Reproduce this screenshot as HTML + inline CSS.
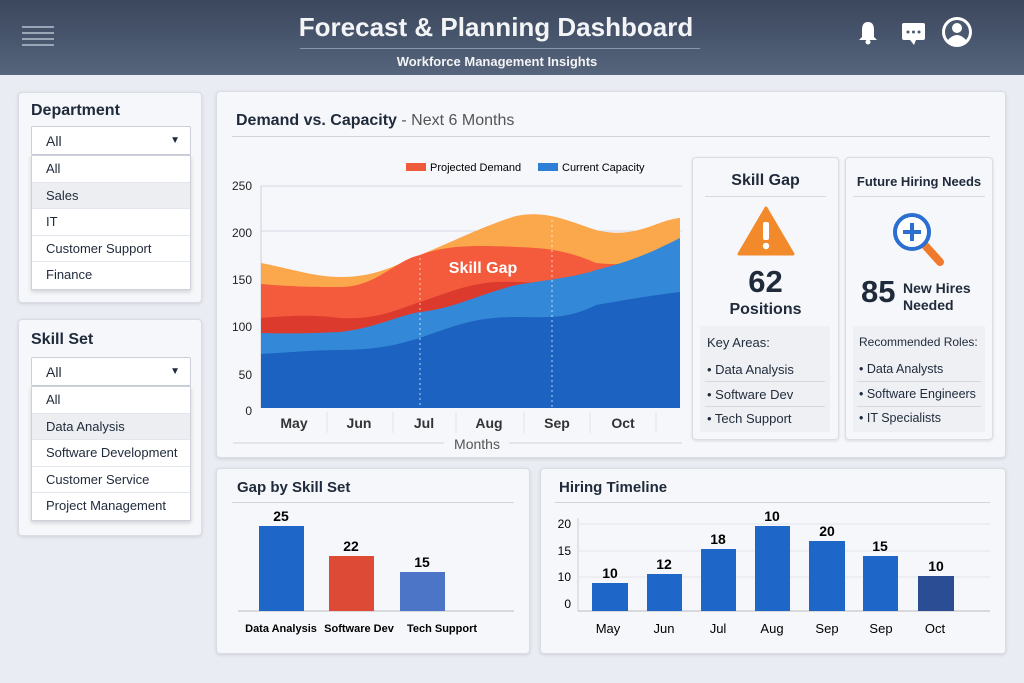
<!DOCTYPE html>
<html><head><meta charset="utf-8"><style>
*{box-sizing:border-box;margin:0;padding:0}
body{width:1024px;height:683px;background:#e9ecf2;font-family:"Liberation Sans","DejaVu Sans",sans-serif;color:#1f2a3a;position:relative;overflow:hidden}
.hdr{position:absolute;left:0;top:0;width:1024px;height:75px;background:linear-gradient(#3b475c,#4a5870 60%,#56647c)}
.card{position:absolute;background:#f6f7fa;border:1px solid #d9dde5;border-radius:4px;box-shadow:0 1px 3px rgba(0,0,0,.12)}
.t{position:absolute;white-space:nowrap}
.sel{position:absolute;background:#fff;border:1px solid #c9ced8;border-radius:2px;font-size:14px;padding:6px 14px}
.list{position:absolute;background:#fff;border:1px solid #ccd1da;box-shadow:0 2px 4px rgba(0,0,0,.15)}
.list div{height:26.5px;line-height:26px;padding-left:14px;font-size:13px;border-bottom:1px solid #e3e6ec}
</style></head><body>
<div class="hdr"></div>
<div class="t" style="left:22px;top:26px;width:32px;height:2px;background:#9aa5b6;box-shadow:0 6px 0 #9aa5b6,0 12px 0 #9aa5b6,0 18px 0 #9aa5b6"></div>
<div class="t" style="left:0;width:992px;top:12px;text-align:center;color:#f3f4f6;font-size:26px;font-weight:bold">Forecast &amp; Planning Dashboard</div>
<div class="t" style="left:300px;top:48px;width:400px;height:1px;background:#8a95a8"></div>
<div class="t" style="left:0;width:994px;top:54px;text-align:center;color:#f3f4f6;font-size:13px;font-weight:bold">Workforce Management Insights</div>
<svg class="t" style="left:859px;top:14px" width="150" height="36">
<path d="M9 8 q6 0 6 8 v7 l3 3 h-18 l3-3 v-7 q0-8 6-8z" fill="#fff"/><circle cx="9" cy="28" r="2.5" fill="#fff"/>
<rect x="43" y="9" width="23" height="17" rx="2" fill="#fff"/><path d="M51 26 l4 5 l2-5z" fill="#fff"/><circle cx="49" cy="18" r="1.5" fill="#4a5870"/><circle cx="54.5" cy="18" r="1.5" fill="#4a5870"/><circle cx="60" cy="18" r="1.5" fill="#4a5870"/>
<circle cx="98" cy="18" r="15" fill="#fff"/><circle cx="98" cy="18" r="12" fill="#4a5870"/><circle cx="98" cy="14" r="5" fill="#fff"/><path d="M88 27 q10-12 20 0 q-10 7 -20 0z" fill="#fff"/>
</svg>

<div class="card" style="left:18px;top:92px;width:184px;height:211px"></div>
<div class="t" style="left:31px;top:102px;font-size:16px;font-weight:bold">Department</div>
<div class="sel" style="left:31px;top:126px;width:160px;height:29px">All<span style="position:absolute;right:10px;top:8px;font-size:10px">▼</span></div>
<div class="list" style="left:31px;top:155px;width:160px"><div>All</div><div style="background:#eceef2">Sales</div><div>IT</div><div>Customer Support</div><div style="border:0">Finance</div></div>

<div class="card" style="left:18px;top:319px;width:184px;height:217px"></div>
<div class="t" style="left:31px;top:331px;font-size:16px;font-weight:bold">Skill Set</div>
<div class="sel" style="left:31px;top:357px;width:160px;height:29px">All<span style="position:absolute;right:10px;top:8px;font-size:10px">▼</span></div>
<div class="list" style="left:31px;top:386px;width:160px"><div>All</div><div style="background:#eceef2">Data Analysis</div><div>Software Development</div><div>Customer Service</div><div style="border:0">Project Management</div></div>

<div class="card" style="left:216px;top:91px;width:790px;height:367px"></div>
<div class="t" style="left:236px;top:112px;font-size:16px"><b>Demand vs. Capacity</b> <span style="color:#555">- Next 6 Months</span></div>
<div class="t" style="left:232px;top:136px;width:758px;height:1px;background:#cfd4dc"></div>

<svg class="t" style="left:216px;top:150px" width="480" height="305">
<g font-size="12" fill="#222" text-anchor="end">
<text x="36" y="40">250</text><text x="36" y="87">200</text><text x="36" y="134">150</text><text x="36" y="181">100</text><text x="36" y="229">50</text><text x="36" y="265">0</text></g>
<line x1="45" y1="36" x2="466" y2="36" stroke="#d4d9e2"/><line x1="45" y1="81" x2="466" y2="81" stroke="#d4d9e2"/>
<line x1="45" y1="36" x2="45" y2="258" stroke="#ccd"/>
<rect x="190" y="13" width="20" height="8" fill="#ef5a3c"/><text x="214" y="21" font-size="11">Projected Demand</text>
<rect x="322" y="13" width="20" height="8" fill="#2d80d6"/><text x="346" y="21" font-size="11">Current Capacity</text>
<path d="M45 113 C80 120,100 127,124 127 C160 127,180 115,204 105 C240 90,270 75,300 66 C330 60,350 70,380 80 C420 90,440 70,464 68 L464 258 L45 258Z" fill="#fba74b"/>
<path d="M45 134 C80 137,100 137,124 137 C160 137,180 110,204 105 C230 95,260 95,300 97 C330 98,350 100,380 113 C420 117,440 110,464 101 L464 258 L45 258Z" fill="#f45a3c"/>
<path d="M45 168 C80 165,100 165,124 168 C160 170,180 160,204 152 C240 140,260 130,300 132 C330 133,360 133,380 133 L464 258 L45 258Z" fill="#dd3a2e"/>
<path d="M45 183 C80 184,100 183,124 182 C160 178,180 166,204 162 C240 158,260 145,300 135 C330 130,360 127,380 120 C420 110,440 100,464 88 L464 258 L45 258Z" fill="#3488d8"/>
<path d="M45 204 C80 202,100 200,124 200 C160 200,180 195,204 188 C240 175,260 167,300 167 C330 167,350 170,380 155 C420 148,440 145,464 142 L464 258 L45 258Z" fill="#1c63c1"/>
<line x1="204" y1="108" x2="204" y2="258" stroke="#fff" stroke-dasharray="2 3" opacity=".7"/>
<line x1="336" y1="70" x2="336" y2="258" stroke="#fff" stroke-dasharray="2 3" opacity=".7"/>
<text x="267" y="123" font-size="16" font-weight="bold" fill="#fff" text-anchor="middle">Skill Gap</text>
<g font-size="14" font-weight="bold" fill="#333" text-anchor="middle"><text x="78" y="278">May</text><text x="143" y="278">Jun</text><text x="208" y="278">Jul</text><text x="273" y="278">Aug</text><text x="341" y="278">Sep</text><text x="407" y="278">Oct</text></g>
<g stroke="#e0e3e8"><line x1="111" y1="262" x2="111" y2="283"/><line x1="177" y1="262" x2="177" y2="283"/><line x1="240" y1="262" x2="240" y2="283"/><line x1="308" y1="262" x2="308" y2="283"/><line x1="374" y1="262" x2="374" y2="283"/><line x1="440" y1="262" x2="440" y2="283"/></g>
<line x1="17" y1="293" x2="228" y2="293" stroke="#cfd4dc"/><line x1="293" y1="293" x2="466" y2="293" stroke="#cfd4dc"/>
<text x="261" y="299" font-size="14" fill="#555" text-anchor="middle">Months</text>
</svg>

<div class="card" style="left:692px;top:157px;width:147px;height:283px"></div>
<div class="t" style="left:692px;width:147px;top:172px;text-align:center;font-size:16px;font-weight:bold">Skill Gap</div>
<div class="t" style="left:705px;top:196px;width:121px;height:1px;background:#d4d8e0"></div>
<svg class="t" style="left:737px;top:205px" width="58" height="52"><path d="M29 3 L56 49 H2Z" fill="#f28a2b" stroke="#f28a2b" stroke-linejoin="round" stroke-width="3"/><rect x="26" y="17" width="6" height="18" rx="2" fill="#fff"/><circle cx="29" cy="41" r="3.2" fill="#fff"/></svg>
<div class="t" style="left:692px;width:147px;top:264px;text-align:center;font-size:31px;font-weight:bold">62</div>
<div class="t" style="left:692px;width:147px;top:301px;text-align:center;font-size:16px;font-weight:bold">Positions</div>
<div class="t" style="left:700px;top:326px;width:130px;height:106px;background:#eef0f4"></div>
<div class="t" style="left:707px;top:335px;font-size:13px">Key Areas:</div>
<div class="t" style="left:707px;top:362px;font-size:13px">• Data Analysis</div>
<div class="t" style="left:707px;top:387px;font-size:13px">• Software Dev</div>
<div class="t" style="left:707px;top:411px;font-size:13px">• Tech Support</div>
<div class="t" style="left:705px;top:381px;width:120px;height:1px;background:#d4d8e0;box-shadow:0 25px 0 #d4d8e0"></div>

<div class="card" style="left:845px;top:157px;width:148px;height:283px"></div>
<div class="t" style="left:845px;width:148px;top:174px;text-align:center;font-size:13px;font-weight:bold">Future Hiring Needs</div>
<div class="t" style="left:853px;top:196px;width:132px;height:1px;background:#d4d8e0"></div>
<svg class="t" style="left:890px;top:210px" width="60" height="60"><line x1="32" y1="32" x2="50" y2="52" stroke="#f07a2c" stroke-width="8" stroke-linecap="round"/><circle cx="22" cy="22" r="17" fill="#fff" stroke="#2b6fd0" stroke-width="4"/><path d="M22 13v18M13 22h18" stroke="#2b6fd0" stroke-width="4"/></svg>
<div class="t" style="left:861px;top:274px;font-size:31px;font-weight:bold">85</div>
<div class="t" style="left:903px;top:280px;font-size:14px;font-weight:bold;line-height:17px">New Hires<br>Needed</div>
<div class="t" style="left:853px;top:326px;width:132px;height:106px;background:#eef0f4"></div>
<div class="t" style="left:859px;top:335px;font-size:12px">Recommended Roles:</div>
<div class="t" style="left:859px;top:362px;font-size:12.5px">• Data Analysts</div>
<div class="t" style="left:859px;top:387px;font-size:12.5px">• Software Engineers</div>
<div class="t" style="left:859px;top:411px;font-size:12.5px">• IT Specialists</div>
<div class="t" style="left:857px;top:381px;width:124px;height:1px;background:#d4d8e0;box-shadow:0 25px 0 #d4d8e0"></div>

<div class="card" style="left:216px;top:468px;width:314px;height:186px"></div>
<div class="t" style="left:237px;top:479px;font-size:15px;font-weight:bold">Gap by Skill Set</div>
<div class="t" style="left:232px;top:502px;width:282px;height:1px;background:#cfd4dc"></div>
<svg class="t" style="left:216px;top:500px" width="314" height="150">
<line x1="22" y1="111" x2="298" y2="111" stroke="#bbb"/>
<rect x="43" y="26" width="45" height="85" fill="#1e66c8"/><rect x="113" y="56" width="45" height="55" fill="#dd4a36"/><rect x="184" y="72" width="45" height="39" fill="#4c74c7"/>
<g font-size="14" font-weight="bold" text-anchor="middle"><text x="65" y="21">25</text><text x="135" y="51">22</text><text x="206" y="67">15</text></g>
<g font-size="11" font-weight="bold" text-anchor="middle"><text x="65" y="132">Data Analysis</text><text x="143" y="132">Software Dev</text><text x="226" y="132">Tech Support</text></g>
</svg>

<div class="card" style="left:540px;top:468px;width:466px;height:186px"></div>
<div class="t" style="left:559px;top:479px;font-size:15px;font-weight:bold">Hiring Timeline</div>
<div class="t" style="left:555px;top:502px;width:435px;height:1px;background:#cfd4dc"></div>
<svg class="t" style="left:540px;top:500px" width="466" height="150">
<g font-size="12" text-anchor="end"><text x="31" y="28">20</text><text x="31" y="55">15</text><text x="31" y="81">10</text><text x="31" y="108">0</text></g>
<line x1="38" y1="18" x2="38" y2="111" stroke="#ccc"/>
<g stroke="#e2e5ea"><line x1="38" y1="24" x2="450" y2="24"/><line x1="38" y1="51" x2="450" y2="51"/><line x1="38" y1="77" x2="450" y2="77"/></g>
<line x1="38" y1="111" x2="450" y2="111" stroke="#bbb"/>
<g fill="#1e66c8"><rect x="52" y="83" width="36" height="28"/><rect x="107" y="74" width="35" height="37"/><rect x="161" y="49" width="35" height="62"/><rect x="215" y="26" width="35" height="85"/><rect x="269" y="41" width="36" height="70"/><rect x="323" y="56" width="35" height="55"/><rect x="378" y="76" width="36" height="35" fill="#2a4d94"/></g>
<g font-size="14" font-weight="bold" text-anchor="middle"><text x="70" y="78">10</text><text x="124" y="69">12</text><text x="178" y="44">18</text><text x="232" y="21">10</text><text x="287" y="36">20</text><text x="340" y="51">15</text><text x="396" y="71">10</text></g>
<g font-size="13" text-anchor="middle"><text x="68" y="133">May</text><text x="124" y="133">Jun</text><text x="178" y="133">Jul</text><text x="232" y="133">Aug</text><text x="287" y="133">Sep</text><text x="341" y="133">Sep</text><text x="395" y="133">Oct</text></g>
</svg>
</body></html>
